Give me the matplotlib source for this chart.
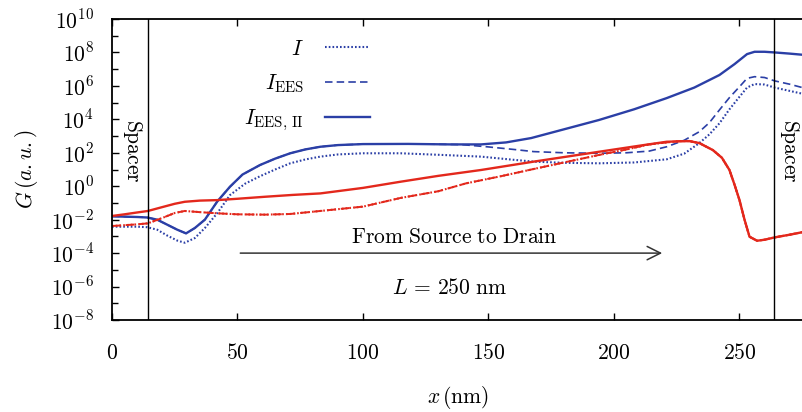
import numpy as np
import matplotlib
matplotlib.use("Agg")
import matplotlib.pyplot as plt

plt.rcParams['mathtext.fontset'] = 'cm'
plt.rcParams['font.family'] = ['DejaVu Serif']

# 1. Data (x in nm, log10 of G in a.u.)
x_blue_ii = [0, 5, 10, 14, 18, 22, 26, 29.5, 33, 37, 42, 47, 52, 59, 65, 71, 77, 83, 90, 100,
             118, 135, 147, 157, 167, 180, 194, 208, 221, 232, 242, 248, 253, 256, 260, 264, 270, 276]
lg_blue_ii = [-1.8, -1.82, -1.84, -1.87, -2.0, -2.3, -2.6, -2.82, -2.5, -2.0, -0.9, -0.03, 0.7, 1.27,
              1.65, 1.97, 2.2, 2.36, 2.46, 2.52, 2.53, 2.5, 2.5, 2.62, 2.88, 3.4, 3.96, 4.6, 5.27, 5.9,
              6.65, 7.3, 7.9, 8.04, 8.04, 8.0, 7.93, 7.85]

x_blue_ees = [0, 5, 10, 14, 18, 22, 26, 29.5, 33, 37, 42, 47, 52, 59, 65, 71, 77, 83, 90, 100,
              118, 135, 140, 150, 160, 168, 180, 194, 205, 214, 221, 228, 234, 238, 242, 246, 250,
              253, 256, 260, 264, 270, 276]
lg_blue_ees = [-1.8, -1.82, -1.84, -1.87, -2.0, -2.3, -2.6, -2.82, -2.5, -2.0, -0.9, -0.03, 0.7, 1.27,
               1.65, 1.97, 2.2, 2.36, 2.46, 2.52, 2.53, 2.5, 2.48, 2.35, 2.2, 2.07, 2.0, 1.97, 2.0,
               2.1, 2.36, 2.75, 3.26, 3.8, 4.56, 5.3, 5.95, 6.45, 6.55, 6.5, 6.3, 6.1, 5.86]

x_blue_i = [0, 5, 10, 14, 18, 22, 26, 29, 33, 37, 42, 47, 53, 59, 65, 71, 77, 83, 90, 100, 115,
            130, 147, 160, 168, 180, 194, 208, 221, 228, 234, 238, 242, 246, 250, 253, 256, 260,
            264, 270, 276]
lg_blue_i = [-2.42, -2.42, -2.42, -2.45, -2.6, -2.95, -3.25, -3.38, -3.1, -2.5, -1.6, -0.53, 0.15,
             0.6, 1.0, 1.37, 1.6, 1.77, 1.9, 1.97, 1.97, 1.88, 1.77, 1.58, 1.47, 1.4, 1.37, 1.42,
             1.61, 1.95, 2.58, 3.1, 3.76, 4.6, 5.35, 5.9, 6.11, 6.08, 5.9, 5.7, 5.5]

x_red_ii = [0, 5, 10, 14.3, 20, 25, 29, 35, 42, 50, 61, 72, 83, 100, 115, 130, 147, 168, 194, 210,
            221, 230, 234, 239.4, 243, 246, 248, 250, 252, 254, 257, 260, 264, 270, 276]
lg_red_ii = [-1.78, -1.68, -1.57, -1.48, -1.25, -1.05, -0.93, -0.86, -0.83, -0.75, -0.63, -0.52,
             -0.43, -0.1, 0.27, 0.62, 0.97, 1.47, 2.06, 2.42, 2.66, 2.7, 2.58, 2.16, 1.7, 0.97,
             0.1, -0.83, -2.0, -3.02, -3.26, -3.2, -3.06, -2.9, -2.72]

x_red_ees = [0, 5, 10, 14.3, 20, 25, 29, 35, 42, 50, 61, 71, 83, 100, 115, 130, 141, 155, 168, 181,
             194, 205, 214, 221, 226, 230, 234, 239.4, 243, 246, 248, 250, 252, 254, 257, 260, 264,
             270, 276]
lg_red_ees = [-2.38, -2.33, -2.28, -2.22, -1.9, -1.6, -1.48, -1.55, -1.62, -1.68, -1.7, -1.66,
              -1.48, -1.22, -0.7, -0.3, 0.17, 0.6, 1.03, 1.45, 1.87, 2.2, 2.5, 2.62, 2.7, 2.7,
              2.58, 2.16, 1.7, 0.97, 0.1, -0.83, -2.0, -3.02, -3.26, -3.2, -3.06, -2.9, -2.72]
x_red_i = x_red_ees
lg_red_i = lg_red_ees

spacer_x = [14.3, 263.7]
xticks = [0, 50, 100, 150, 200, 250]
ydecades = [-8, -6, -4, -2, 0, 2, 4, 6, 8, 10]

blue = '#2b3fa6'
red = '#e3281c'
fs = 15.5

# 2. Plotting
fig = plt.figure(figsize=(8.03, 4.12), dpi=100)
ax = fig.add_axes([112 / 803, 1 - 320 / 412, 1 - 112 / 803, (320 - 19) / 412])

ax.plot(x_blue_i, 10.0 ** np.array(lg_blue_i), color=blue, lw=1.5, ls=(0, (0.8, 1.0)), label=r'$I$')
ax.plot(x_blue_ees, 10.0 ** np.array(lg_blue_ees), color=blue, lw=1.2, ls=(0, (4.5, 2.5)),
        label=r'$I_\mathrm{EES}$')
ax.plot(x_blue_ii, 10.0 ** np.array(lg_blue_ii), color=blue, lw=1.7, label=r'$I_\mathrm{EES,\,II}$')
ax.plot(x_red_i, 10.0 ** np.array(lg_red_i), color=red, lw=1.5, ls=(0, (0.8, 1.0)))
ax.plot(x_red_ees, 10.0 ** np.array(lg_red_ees), color=red, lw=1.4, ls=(0, (4.5, 2.5)))
ax.plot(x_red_ii, 10.0 ** np.array(lg_red_ii), color=red, lw=1.7)

for xs in spacer_x:
    ax.axvline(xs, color='black', lw=1.0)

ax.set_yscale('log')
ax.set_xlim(0, 275.3)
ax.set_ylim(1e-8, 1e10)
ax.set_xticks(xticks)
ax.set_xticklabels([f'${t}$' for t in xticks])
ax.set_yticks([10.0 ** d for d in ydecades])
ax.set_yticklabels([f'$10^{{{d}}}$' for d in ydecades])
ax.set_yticks([10.0 ** d for d in range(-7, 10, 2)], minor=True)
ax.set_yticklabels([], minor=True)
ax.tick_params(axis='x', which='both', direction='in', top=True, length=5, width=1.0,
               labelsize=fs, pad=16)
ax.tick_params(axis='y', which='major', direction='in', length=5, width=1.0, labelsize=fs, pad=13)
ax.tick_params(axis='y', which='minor', direction='in', length=4, width=1.0)
ax.spines['right'].set_visible(False)
for s in ['left', 'bottom', 'top']:
    ax.spines[s].set_linewidth(1.3)

ax.set_xlabel(r'$x\,(\mathrm{nm})$', fontsize=fs, labelpad=14)
ax.set_ylabel(r'$G\,(a.u.)$', fontsize=fs, labelpad=8)

ax.text(8.0, 10 ** 2.1, r'$\mathrm{Spacer}$', rotation=270, ha='center', va='center', fontsize=fs)
ax.text(270.0, 10 ** 2.1, r'$\mathrm{Spacer}$', rotation=270, ha='center', va='center', fontsize=fs)

ax.annotate('', xy=(220.3, 1e-4), xytext=(50, 1e-4),
            arrowprops=dict(arrowstyle='->', color='#333333', lw=1.1, mutation_scale=24))
ax.text(136.5, 10 ** -3.04, r'$\mathrm{From\ Source\ to\ Drain}$', ha='center', va='center',
        fontsize=fs)
ax.text(134.5, 10 ** -6.09, r'$L\,=\,250\ \mathrm{nm}$', ha='center', va='center', fontsize=fs)

leg = ax.legend(loc='upper right', bbox_to_anchor=(0.373, 0.938), frameon=False, markerfirst=False,
                fontsize=fs, handlelength=2.1, handletextpad=0.95, labelspacing=0.58,
                borderpad=0, borderaxespad=0)

plt.savefig('out.png', dpi=100)
